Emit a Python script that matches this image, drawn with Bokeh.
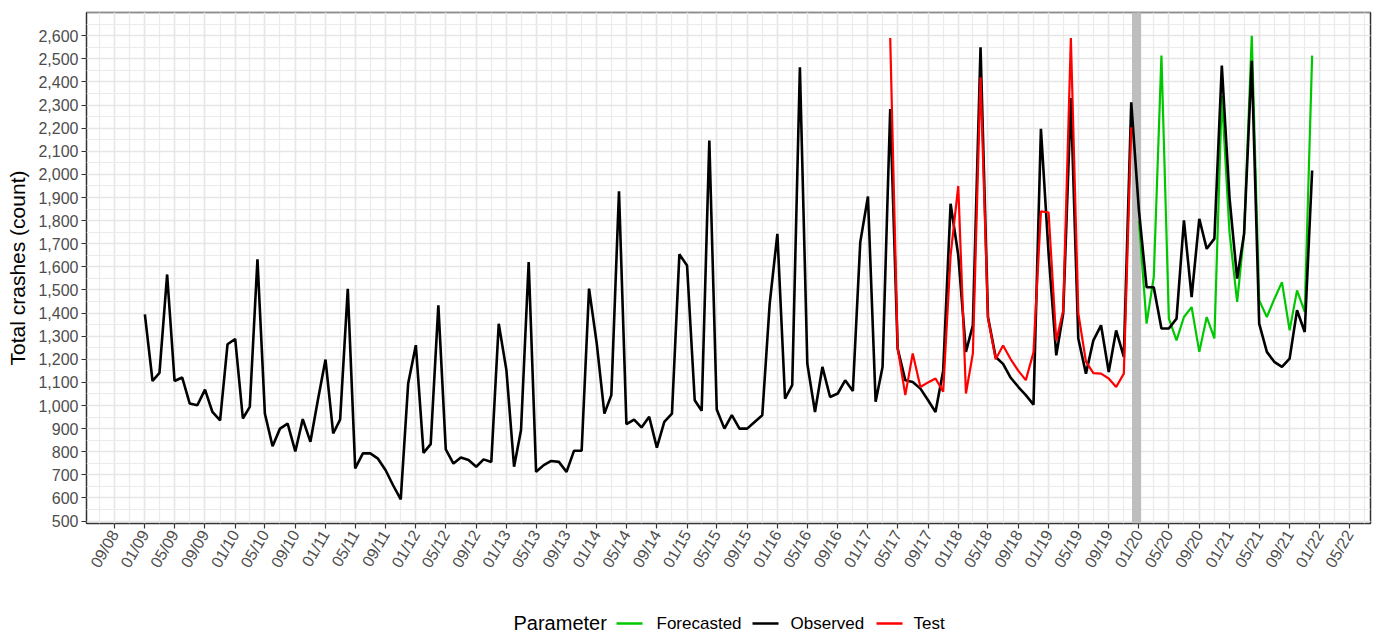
import math
import pandas as pd
from bokeh.plotting import figure
from bokeh.models import Range1d, FixedTicker, DatetimeTickFormatter, NumeralTickFormatter
from bokeh.layouts import column
from bokeh.embed import file_html
from bokeh.resources import INLINE
from bokeh.core.properties import value

# ---------------- data (monthly total crashes) ----------------
observed_start = "2009-01-01"
observed = [
    1394, 1106, 1141, 1567, 1106, 1121, 1009, 1001, 1069, 972, 936, 1265,
    1288, 944, 994, 1633, 965, 824, 900, 922, 801, 941, 843, 1023,
    1199, 879, 939, 1505, 728, 793, 793, 770, 720, 655, 594, 1095,
    1261, 795, 833, 1433, 810, 749, 775, 764, 735, 767, 756, 1354,
    1153, 735, 893, 1621, 713, 742, 760, 756, 713, 804, 804, 1506,
    1269, 965, 1045, 1927, 919, 939, 905, 951, 818, 929, 965, 1654,
    1606, 1023, 977, 2146, 983, 900, 958, 900, 900, 929, 958, 1441,
    1743, 1030, 1088, 2463, 1181, 972, 1167, 1037, 1052, 1109, 1063, 1707,
    1904, 1016, 1167, 2283, 1246, 1109, 1102, 1073, 1023, 972, 1150, 1873,
    1650, 1232, 1347, 2550, 1383, 1210, 1180, 1120, 1080, 1045, 1004, 2197,
    1657, 1217, 1398, 2330, 1290, 1138, 1282, 1347, 1145, 1325, 1210, 2312,
    1844, 1512, 1512, 1333, 1333, 1376, 1801, 1469, 1808, 1678, 1722, 2471,
    1900, 1549, 1743, 2492, 1354, 1232, 1189, 1167, 1203, 1412, 1318, 2017,
]
test_start = "2017-04-01"
test = [
    2590, 1250, 1045, 1225, 1080, 1100, 1117, 1060, 1650,
    1950, 1052, 1225, 2420, 1380, 1200, 1260, 1200, 1150, 1110, 1230, 1840,
    1835, 1280, 1410, 2590, 1400, 1190, 1140, 1138, 1117, 1080, 1138, 2204,
]
forecast_start = "2020-01-01"
forecast = [
    1800, 1354, 1556, 2514, 1376, 1282, 1383, 1426, 1232, 1383, 1290, 2340,
    1750, 1448, 1744, 2600, 1455, 1383, 1460, 1534, 1325, 1498, 1405, 2514,
]
split_band = ["2019-12-04", "2020-01-10"]
x_tick_first, x_tick_last = "2008-09-01", "2022-05-01"
y_ticks = list(range(500, 2700, 100))
legend_labels = ["Forecasted", "Observed", "Test"]
legend_colors = ["#00C800", "#000000", "#FF0000"]
legend_title = "Parameter"
y_title = "Total crashes (count)"

# ---------------- helpers ----------------
def ms(d):
    return pd.Timestamp(d).value / 1e6

def months(start, n):
    return [ms(d) for d in pd.date_range(start, periods=n, freq="MS")]

x_obs = months(observed_start, len(observed))
x_test = months(test_start, len(test))
x_fc = months(forecast_start, len(forecast))

d0, d1 = x_obs[0], x_obs[-1]
pad = 0.05 * (d1 - d0)
FONT = "Liberation Sans"
LEFT, RIGHT = 86, 10

p = figure(width=1380, height=590, x_axis_type="datetime",
           x_range=Range1d(d0 - pad, d1 + pad), y_range=Range1d(489.5, 2700.5),
           output_backend="svg", toolbar_location=None,
           min_border_left=LEFT, min_border_right=RIGHT, min_border_top=12, min_border_bottom=67)
p.background_fill_color = "white"
p.border_fill_color = "white"
p.outline_line_color = "#333333"
p.outline_line_width = 1.5

# ticks
major_x = [ms(d) for d in pd.date_range(x_tick_first, x_tick_last, freq="4MS")]
minor_x = [ms(d) for d in pd.date_range("2008-05-01", "2022-09-01", freq="2MS")]
p.xaxis.ticker = FixedTicker(ticks=major_x, minor_ticks=minor_x)
fmt = "%m/%y"
p.xaxis.formatter = DatetimeTickFormatter(microseconds=fmt, milliseconds=fmt, seconds=fmt,
                                          minsec=fmt, minutes=fmt, hourmin=fmt, hours=fmt,
                                          days=fmt, months=fmt, years=fmt)
p.yaxis.ticker = FixedTicker(ticks=y_ticks, minor_ticks=list(range(450, 2750, 50)))
p.yaxis.formatter = NumeralTickFormatter(format="0,0")

for ax in (p.xaxis[0], p.yaxis[0]):
    ax.axis_line_color = None
    ax.major_tick_line_color = "#333333"
    ax.major_tick_line_width = 1.2
    ax.major_tick_out = 5
    ax.major_tick_in = 0
    ax.minor_tick_line_color = None
    ax.major_label_text_font = FONT
    ax.major_label_text_font_size = "16px"
    ax.major_label_text_color = "#4D4D4D"
    ax.major_label_standoff = 3
p.xaxis.major_label_orientation = math.pi / 3
p.yaxis.axis_label = y_title
p.yaxis.axis_label_text_font = FONT
p.yaxis.axis_label_text_font_size = "21px"
p.yaxis.axis_label_text_font_style = "normal"
p.yaxis.axis_label_text_color = "#000000"
p.yaxis.axis_label_standoff = 6

for g in (p.xgrid[0], p.ygrid[0]):
    g.grid_line_color = "#E6E6E6"
    g.grid_line_width = 1.5
    g.minor_grid_line_color = "#EBEBEB"
    g.minor_grid_line_width = 1.2

# split band
p.quad(left=[ms(split_band[0])], right=[ms(split_band[1])], bottom=[489.5], top=[2700.5],
       fill_color="#BEBEBE", line_color=None)

p.line(x_fc, forecast, line_color=legend_colors[0], line_width=2.2)
p.line(x_obs, observed, line_color=legend_colors[1], line_width=2.6)
p.line(x_test, test, line_color=legend_colors[2], line_width=2.2)

# ---------------- legend strip (data units = page pixels) ----------------
lg = figure(width=1380, height=43, x_range=Range1d(LEFT, 1380 - RIGHT), y_range=Range1d(0, 43),
            output_backend="svg", toolbar_location=None,
            min_border_left=LEFT, min_border_right=RIGHT, min_border_top=0, min_border_bottom=0)
lg.axis.visible = False
lg.grid.visible = False
lg.outline_line_color = None
lg.background_fill_color = "white"
lg.border_fill_color = "white"

lg.text(x=[513], y=[11], text=[legend_title], text_font=value(FONT), text_font_size="20px",
        text_baseline="middle", text_align="left", text_color="#000000")
key_x = [616, 752, 876]
lab_x = [656, 790, 913]
for i, lab in enumerate(legend_labels):
    lg.segment(x0=[key_x[i]], y0=[10], x1=[key_x[i] + 26], y1=[10],
               line_color=legend_colors[i], line_width=2.4)
    lg.text(x=[lab_x[i]], y=[10], text=[lab], text_font=value(FONT), text_font_size="17px",
            text_baseline="middle", text_align="left", text_color="#000000")

layout = column(p, lg, spacing=0)
open("out.html", "w").write(file_html(layout, INLINE))
